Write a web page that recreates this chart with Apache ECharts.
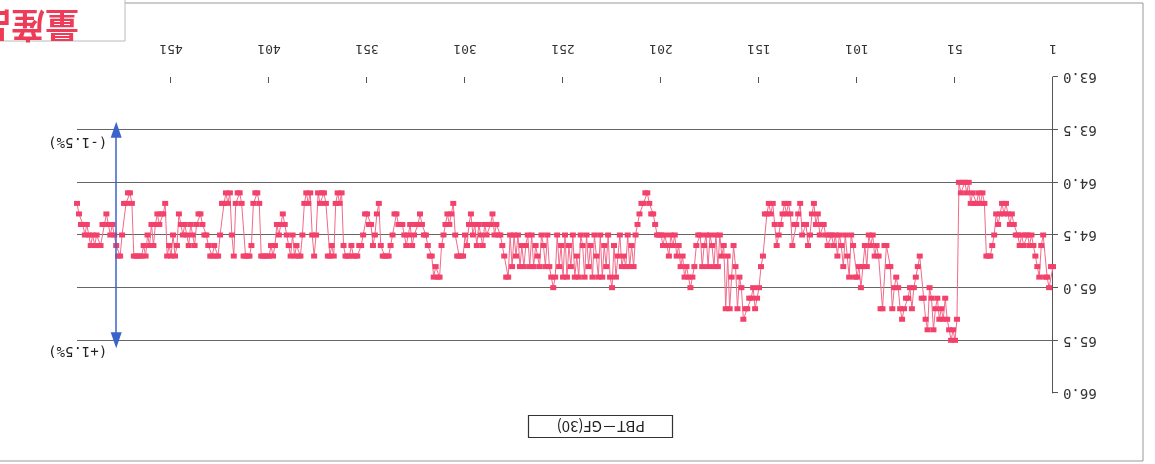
<!DOCTYPE html>
<html>
<head>
<meta charset="utf-8">
<script src="https://cdn.jsdelivr.net/npm/echarts@6/dist/echarts.min.js"></script>
<style>
  html, body { margin: 0; padding: 0; background: #fff; }
  /* the scanned reference is upside down, so the whole chart is turned 180deg */
  #chart { width: 1155px; height: 464px; transform: rotate(180deg); }
</style>
</head>
<body>
<div id="chart"></div>
<script>
var seriesName = 'PBT－GF(30)';
var stampText = '量産品';
var limitLow = 63.5, limitHigh = 65.5;
var limitLabels = ['(-1.5%)', '(+1.5%)'];

// values, shot 1 .. 499
var values = [
  64.8, 64.8, 65.0, 64.9, 64.9, 64.5, 64.6, 64.9, 64.8, 64.7,
  64.6, 64.5, 64.6, 64.5, 64.5, 64.6, 64.5, 64.6, 64.5, 64.5,
  64.4, 64.3, 64.4, 64.3, 64.2, 64.3, 64.2, 64.3, 64.4, 64.3,
  64.5, 64.6, 64.7, 64.7, 64.7, 64.2, 64.1, 64.2, 64.1, 64.2,
  64.2, 64.1, 64.2, 64.0, 64.1, 64.0, 64.0, 64.1, 64.0, 65.3,
  65.5, 65.4, 65.5, 65.4, 65.3, 65.1, 65.3, 65.2, 65.3, 65.1,
  65.2, 65.4, 65.1, 65.0, 65.4, 65.3, 65.1, 65.1, 64.7, 64.8,
  64.9, 65.0, 65.2, 65.0, 65.1, 65.1, 65.2, 65.3, 65.2, 65.0,
  64.9, 65.0, 65.2, 64.8, 64.8, 64.6, 64.6, 65.2, 65.2, 64.7,
  64.6, 64.7, 64.5, 64.6, 64.5, 64.8, 64.6, 64.8, 65.0, 64.8,
  64.9, 64.9, 64.6, 64.5, 64.9, 64.7, 64.5, 64.8, 64.6, 64.5,
  64.7, 64.5, 64.6, 64.5, 64.5, 64.6, 64.5, 64.4, 64.4, 64.5,
  64.3, 64.4, 64.2, 64.3, 64.5, 64.6, 64.4, 64.4, 64.5, 64.2,
  64.3, 64.4, 64.4, 64.6, 64.3, 64.2, 64.3, 64.2, 64.3, 64.4,
  64.5, 64.6, 64.4, 64.2, 64.3, 64.2, 64.3, 64.3, 64.7, 64.8,
  65.0, 65.1, 65.2, 65.0, 65.1, 65.1, 65.2, 65.2, 65.3, 65.0,
  64.9, 65.2, 64.8, 64.6, 64.9, 65.2, 64.7, 65.2, 64.6, 64.7,
  64.5, 64.8, 64.5, 64.8, 64.6, 64.5, 64.8, 64.5, 64.6, 64.8,
  64.5, 64.5, 64.6, 64.8, 64.9, 65.0, 64.9, 64.8, 64.9, 64.7,
  64.8, 64.6, 64.7, 64.5, 64.6, 64.5, 64.7, 64.6, 64.5, 64.6,
  64.5, 64.5, 64.5, 64.4, 64.3, 64.3, 64.2, 64.1, 64.1, 64.2,
  64.2, 64.3, 64.4, 64.5, 64.8, 64.6, 64.8, 64.5, 64.8, 64.7,
  64.8, 64.5, 64.7, 64.9, 64.6, 65.0, 64.9, 64.5, 64.8, 64.6,
  64.9, 64.5, 64.9, 64.7, 64.5, 64.9, 64.6, 64.8, 64.5, 64.9,
  64.6, 64.5, 64.9, 64.7, 64.9, 64.5, 64.8, 64.6, 64.9, 64.5,
  64.9, 64.6, 64.8, 64.5, 64.9, 65.0, 64.9, 64.8, 64.5, 64.8,
  64.6, 64.5, 64.8, 64.7, 64.6, 64.8, 64.5, 64.8, 64.5, 64.6,
  64.8, 64.6, 64.8, 64.5, 64.7, 64.5, 64.8, 64.5, 64.9, 64.9,
  64.7, 64.6, 64.5, 64.5, 64.4, 64.5, 64.3, 64.4, 64.4, 64.5,
  64.4, 64.6, 64.5, 64.4, 64.6, 64.4, 64.5, 64.3, 64.4, 64.6,
  64.5, 64.7, 64.7, 64.7, 64.7, 64.5, 64.2, 64.3, 64.4, 64.3,
  64.4, 64.5, 64.6, 64.9, 64.9, 64.8, 64.9, 64.7, 64.7, 64.6,
  64.5, 64.5, 64.4, 64.3, 64.4, 64.4, 64.5, 64.6, 64.4, 64.5,
  64.6, 64.5, 64.4, 64.4, 64.4, 64.3, 64.3, 64.5, 64.6, 64.7,
  64.7, 64.7, 64.7, 64.6, 64.2, 64.3, 64.5, 64.6, 64.4, 64.4,
  64.3, 64.3, 64.5, 64.6, 64.6, 64.7, 64.7, 64.7, 64.6, 64.7,
  64.7, 64.7, 64.6, 64.1, 64.2, 64.1, 64.2, 64.7, 64.6, 64.7,
  64.7, 64.2, 64.1, 64.1, 64.2, 64.1, 64.5, 64.7, 64.5, 64.1,
  64.2, 64.1, 64.2, 64.5, 64.7, 64.7, 64.6, 64.7, 64.5, 64.7,
  64.6, 64.5, 64.4, 64.3, 64.4, 64.5, 64.4, 64.6, 64.7, 64.6,
  64.7, 64.7, 64.7, 64.7, 64.7, 64.2, 64.1, 64.1, 64.2, 64.6,
  64.7, 64.7, 64.7, 64.7, 64.2, 64.1, 64.1, 64.2, 64.7, 64.5,
  64.1, 64.2, 64.1, 64.2, 64.2, 64.5, 64.7, 64.7, 64.6, 64.7,
  64.7, 64.6, 64.5, 64.5, 64.4, 64.3, 64.3, 64.4, 64.6, 64.5,
  64.4, 64.6, 64.5, 64.4, 64.5, 64.4, 64.3, 64.6, 64.7, 64.5,
  64.7, 64.6, 64.7, 64.2, 64.3, 64.3, 64.4, 64.3, 64.4, 64.6,
  64.4, 64.6, 64.5, 64.7, 64.6, 64.7, 64.7, 64.7, 64.7, 64.7,
  64.2, 64.1, 64.1, 64.2, 64.2, 64.5, 64.7, 64.7, 64.6, 64.5,
  64.4, 64.5, 64.4, 64.3, 64.4, 64.4, 64.6, 64.6, 64.5, 64.6,
  64.5, 64.6, 64.5, 64.4, 64.5, 64.4, 64.4, 64.3, 64.2
];
var shots = [];
for (var i = 0; i < values.length; i++) shots.push(String(i + 1));
var arrowShot = '479';

var chart = echarts.init(document.getElementById('chart'));

var option = {
  backgroundColor: '#fff',
  animation: false,
  title: {
    text: seriesName,
    left: 482,
    top: 26,
    padding: [4, 28, 4, 28],
    borderColor: '#333',
    borderWidth: 1.2,
    textStyle: { fontFamily: 'Noto Sans CJK JP', fontSize: 15, fontWeight: 'normal', color: '#222' }
  },
  grid: { left: 102, right: 77, top: 71, bottom: 77 },
  xAxis: {
    type: 'category',
    data: shots,
    boundaryGap: false,
    axisLine: { show: false },
    axisTick: { show: true, interval: 49, length: 6, inside: true, lineStyle: { color: '#555' } },
    axisLabel: { interval: 49, margin: 22, fontSize: 13, color: '#333', fontFamily: 'DejaVu Sans Mono' },
    splitLine: { show: false }
  },
  yAxis: {
    type: 'value',
    min: 63,
    max: 66,
    interval: 0.5,
    axisLine: { show: true, lineStyle: { color: '#555', width: 1 } },
    axisTick: { show: true, length: 5, lineStyle: { color: '#555' } },
    axisLabel: {
      margin: 10, fontSize: 14, color: '#333', fontFamily: 'DejaVu Sans Mono',
      formatter: function (v) { return v.toFixed(1); }
    },
    splitLine: {
      show: true,
      lineStyle: { color: ['transparent', '#666', '#666', '#666', '#666', '#666', 'transparent'], width: 1 }
    }
  },
  graphic: [
    {
      type: 'rect',
      shape: { x: 12, y: 3, width: 1160, height: 458 },
      style: { fill: 'none', stroke: '#999', lineWidth: 1 },
      silent: true
    },
    {
      type: 'rect',
      shape: { x: 1030, y: 423, width: 130, height: 45 },
      style: { fill: '#fff', stroke: '#bbb', lineWidth: 1 },
      silent: true
    },
    {
      type: 'text',
      left: 1076,
      top: 421,
      style: { text: stampText, fill: '#ee3b57', font: 'bold 34px "Noto Sans CJK JP"' }
    }
  ],
  series: [{
    name: seriesName,
    type: 'line',
    data: values,
    symbol: 'rect',
    symbolSize: [6, 5],
    showAllSymbol: true,
    itemStyle: { color: '#f2416b' },
    lineStyle: { color: '#f26a8a', width: 1 },
    markLine: {
      silent: true,
      symbol: ['triangle', 'triangle'],
      symbolSize: [11, 16],
      lineStyle: { color: '#3b63cc', width: 1.5, type: 'solid' },
      label: { show: false },
      data: [[
        { coord: [arrowShot, limitLow] },
        { coord: [arrowShot, limitHigh] }
      ]]
    },
    markPoint: {
      silent: true,
      symbol: 'rect',
      symbolSize: 0,
      label: {
        show: true, position: 'right', color: '#222', fontSize: 14, fontFamily: 'DejaVu Sans Mono',
        formatter: function (p) { return p.name; }
      },
      data: [
        { name: limitLabels[0], coord: [arrowShot, limitLow], label: { offset: [4, -12] } },
        { name: limitLabels[1], coord: [arrowShot, limitHigh], label: { offset: [4, -10] } }
      ]
    }
  }]
};

chart.setOption(option);
</script>
</body>
</html>
